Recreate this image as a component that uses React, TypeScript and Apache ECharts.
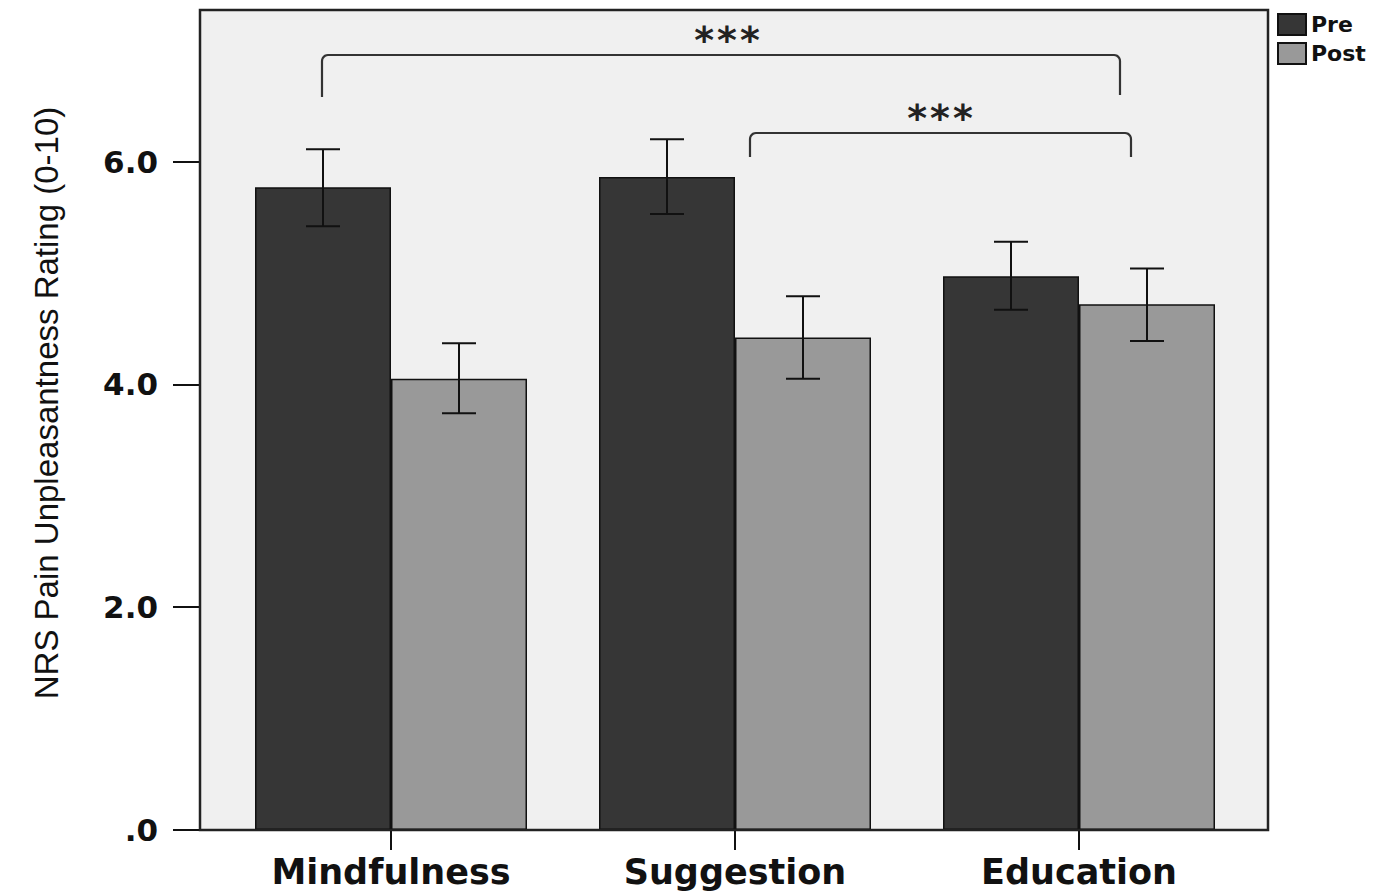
import React, { useEffect, useRef } from 'react';
import * as echarts from 'echarts';

const categories = ['Mindfulness', 'Suggestion', 'Education'];
const seriesNames = ['Pre', 'Post'];
const preMeans = [5.77, 5.86, 4.97];
const postMeans = [4.05, 4.42, 4.72];
const preLower = [5.42, 5.53, 4.67];
const preUpper = [6.11, 6.2, 5.28];
const postLower = [3.74, 4.05, 4.39];
const postUpper = [4.37, 4.79, 5.04];
const yTicks = [0, 2, 4, 6];
const yTitle = 'NRS Pain Unpleasantness Rating (0-10)';
const sigLabel = '***';

const BAR_W = 136;
const PLOT = { left: 200, top: 10, right: 1268, bottom: 830 };

function bracketPoints(x1: number, x2: number, yTop: number, yL: number, yR: number, r: number) {
  const pts: number[][] = [[x1, yL], [x1, yTop + r]];
  const n = 6;
  for (let t = 1; t <= n; t++) {
    const a = Math.PI + (t / n) * (Math.PI / 2);
    pts.push([x1 + r + r * Math.cos(a), yTop + r + r * Math.sin(a)]);
  }
  pts.push([x2 - r, yTop]);
  for (let t = 1; t <= n; t++) {
    const a = 1.5 * Math.PI + (t / n) * (Math.PI / 2);
    pts.push([x2 - r + r * Math.cos(a), yTop + r + r * Math.sin(a)]);
  }
  pts.push([x2, yR]);
  return pts;
}

function errSeries(name: string, lo: number[], hi: number[], dir: number) {
  return {
    type: 'custom',
    name,
    data: categories.map((_, i) => [i, lo[i], hi[i]]),
    encode: { x: 0, y: [1, 2] },
    z: 5,
    renderItem: (params: any, api: any) => {
      const c = api.value(0);
      const top = api.coord([c, api.value(2)]);
      const bot = api.coord([c, api.value(1)]);
      const x = top[0] + (dir * BAR_W) / 2;
      const h = 17;
      const st = { stroke: '#111', lineWidth: 2 };
      return {
        type: 'group',
        children: [
          { type: 'line', shape: { x1: x, y1: top[1], x2: x, y2: bot[1] }, style: st },
          { type: 'line', shape: { x1: x - h, y1: top[1], x2: x + h, y2: top[1] }, style: st },
          { type: 'line', shape: { x1: x - h, y1: bot[1], x2: x + h, y2: bot[1] }, style: st },
        ],
      };
    },
  };
}

export default function App() {
  const ref = useRef<HTMLDivElement>(null);
  useEffect(() => {
    if (!ref.current) return;
    const chart = echarts.init(ref.current, null, { renderer: 'svg' });
    const boldFont = 'DejaVu Sans';
    chart.setOption({
      animation: false,
      backgroundColor: '#ffffff',
      grid: { left: 219, right: 145, top: 10, bottom: 61, containLabel: false },
      legend: {
        data: seriesNames,
        orient: 'vertical',
        left: 1277,
        top: 13,
        itemWidth: 28,
        itemHeight: 21,
        itemGap: 6,
        icon: 'rect',
        padding: 0,
        textStyle: { fontFamily: boldFont, fontWeight: 'bold', fontSize: 22, color: '#111', padding: [2, 0, 0, 0] },
      },
      xAxis: {
        type: 'category',
        data: categories,
        axisLine: { show: false },
        axisTick: { show: true, alignWithLabel: true, length: 20, lineStyle: { color: '#111', width: 2 } },
        axisLabel: { fontFamily: boldFont, fontWeight: 'bold', fontSize: 35, color: '#111', margin: 24 },
        splitLine: { show: false },
      },
      yAxis: {
        type: 'value',
        min: 0,
        max: 7.36,
        interval: 2,
        offset: 19,
        axisLine: { show: true, lineStyle: { color: '#111', width: 2 } },
        axisTick: { show: true, length: 27, customValues: yTicks, lineStyle: { color: '#111', width: 2 } },
        axisLabel: {
          customValues: yTicks,
          fontFamily: boldFont,
          fontWeight: 'bold',
          fontSize: 31,
          color: '#111',
          margin: 42,
          formatter: (v: number) => (v === 0 ? '.0' : v.toFixed(1)),
        },
        splitLine: { show: false },
      },
      graphic: [
        {
          type: 'rect',
          z: -10,
          silent: true,
          shape: { x: PLOT.left, y: PLOT.top, width: PLOT.right - PLOT.left, height: PLOT.bottom - PLOT.top },
          style: { fill: '#f0f0f0', stroke: 'none' },
        },
        {
          type: 'rect',
          z: 100,
          silent: true,
          shape: { x: PLOT.left, y: PLOT.top, width: PLOT.right - PLOT.left, height: PLOT.bottom - PLOT.top },
          style: { fill: 'none', stroke: '#222', lineWidth: 2.5 },
        },
        {
          type: 'polyline',
          z: 100,
          silent: true,
          shape: { points: bracketPoints(322, 1120, 55, 97, 95, 6) },
          style: { fill: 'none', stroke: '#333', lineWidth: 2.2 },
        },
        {
          type: 'polyline',
          z: 100,
          silent: true,
          shape: { points: bracketPoints(750, 1131, 133, 157, 157, 6) },
          style: { fill: 'none', stroke: '#333', lineWidth: 2.2 },
        },
        {
          type: 'text',
          z: 100,
          x: 727,
          y: 40,
          style: { text: sigLabel, fontFamily: 'DejaVu Sans Mono', fontWeight: 'bold', fontSize: 38, fill: '#222', align: 'center', verticalAlign: 'middle' },
        },
        {
          type: 'text',
          z: 100,
          x: 940,
          y: 118,
          style: { text: sigLabel, fontFamily: 'DejaVu Sans Mono', fontWeight: 'bold', fontSize: 38, fill: '#222', align: 'center', verticalAlign: 'middle' },
        },
        {
          type: 'text',
          z: 100,
          x: 46,
          y: 403,
          rotation: Math.PI / 2,
          style: { text: yTitle, fontFamily: 'Liberation Sans', fontSize: 33, fill: '#111', align: 'center', verticalAlign: 'middle' },
        },
      ],
      series: [
        {
          type: 'bar',
          name: seriesNames[0],
          data: preMeans,
          barWidth: BAR_W,
          barGap: '0%',
          itemStyle: { color: '#363636', borderColor: '#111', borderWidth: 1.5 },
          z: 2,
        },
        {
          type: 'bar',
          name: seriesNames[1],
          data: postMeans,
          barWidth: BAR_W,
          barGap: '0%',
          itemStyle: { color: '#999999', borderColor: '#111', borderWidth: 1.5 },
          z: 2,
        },
        errSeries('Pre error', preLower, preUpper, -1),
        errSeries('Post error', postLower, postUpper, 1),
      ],
    });
    return () => chart.dispose();
  }, []);
  return <div ref={ref} style={{ position: 'fixed', left: 0, top: 0, width: 1396, height: 891 }} />;
}
